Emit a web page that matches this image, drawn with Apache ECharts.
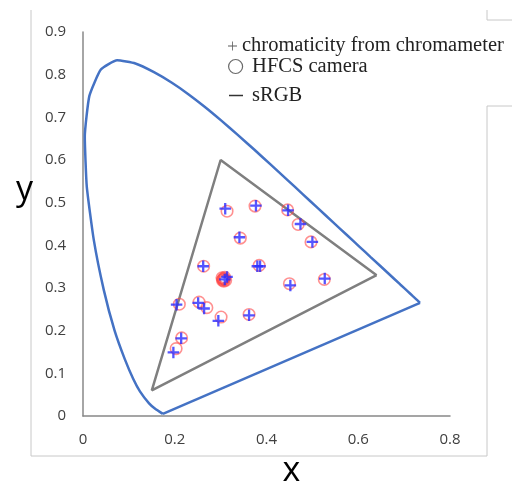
<!DOCTYPE html>
<html>
<head>
<meta charset="utf-8">
<script src="https://cdn.jsdelivr.net/npm/echarts@6/dist/echarts.min.js"></script>
<style>
  html, body { margin: 0; padding: 0; background: #fff; }
  #chart { width: 512px; height: 482px; }
</style>
</head>
<body>
<div id="chart"></div>
<script>
// spectral locus (x, y), 380 nm -> 700 nm
var locus = [
  [0.1741, 0.0050], [0.1566, 0.0177], [0.1440, 0.0297], [0.1241, 0.0578],
  [0.1096, 0.0868], [0.0913, 0.1327], [0.0687, 0.2007], [0.0454, 0.2950],
  [0.0235, 0.4127], [0.0082, 0.5384], [0.0039, 0.6548], [0.0139, 0.7502],
  [0.0389, 0.8120], [0.0743, 0.8338], [0.1142, 0.8262], [0.1547, 0.8059],
  [0.1929, 0.7816], [0.2296, 0.7543], [0.2658, 0.7243], [0.3016, 0.6923],
  [0.3373, 0.6589], [0.3731, 0.6245], [0.4087, 0.5896], [0.4441, 0.5547],
  [0.4788, 0.5202], [0.5125, 0.4866], [0.5448, 0.4544], [0.5752, 0.4242],
  [0.6029, 0.3965], [0.6270, 0.3725], [0.6658, 0.3340], [0.6915, 0.3083],
  [0.7079, 0.2920], [0.7190, 0.2809], [0.7260, 0.2740], [0.7347, 0.2653]
];
// purple line closing the horseshoe
var purpleLine = [[0.7347, 0.2653], [0.1741, 0.0050]];

// sRGB gamut triangle
var srgb = [[0.64, 0.33], [0.30, 0.60], [0.15, 0.06], [0.64, 0.33]];

// chromameter readings (blue +)
var meterPts = [
  [0.310, 0.486], [0.377, 0.493], [0.447, 0.482], [0.474, 0.450], [0.500, 0.408],
  [0.341, 0.419], [0.262, 0.351], [0.380, 0.351], [0.386, 0.351], [0.314, 0.326],
  [0.309, 0.320], [0.452, 0.306], [0.527, 0.322], [0.204, 0.261], [0.251, 0.265],
  [0.264, 0.252], [0.295, 0.223], [0.362, 0.236], [0.214, 0.182], [0.197, 0.149]
];

// HFCS camera estimates (red o)
var cameraPts = [
  [0.314, 0.480], [0.375, 0.492], [0.446, 0.483], [0.469, 0.449], [0.497, 0.408],
  [0.343, 0.417], [0.263, 0.351], [0.384, 0.353], [0.305, 0.320], [0.309, 0.325],
  [0.303, 0.324], [0.311, 0.318], [0.307, 0.316], [0.306, 0.322], [0.308, 0.321],
  [0.304, 0.318], [0.450, 0.310], [0.526, 0.320],
  [0.210, 0.262], [0.253, 0.267], [0.270, 0.254], [0.301, 0.232], [0.362, 0.238],
  [0.215, 0.183], [0.203, 0.158]
];

var xTicks = [0, 0.8, 0.2];   // min, max, step
var yTicks = [0, 0.9, 0.1];

var plus = 'path://M4,0h2v4h4v2h-4v4h-2v-4h-4v-2h4z';
var thinPlus = 'path://M4.55,0h0.9v4.55h4.55v0.9h-4.55v4.55h-0.9v-4.55h-4.55v-0.9h4.55z';

var chart = echarts.init(document.getElementById('chart'));

var legendText = { fontFamily: 'Liberation Serif', fontSize: 20.5, color: '#222' };
var locusStyle = { color: '#4472C4', width: 2.5 };

var option = {
  animation: false,
  backgroundColor: '#fff',
  grid: { left: 83, right: 62, top: 32, bottom: 66, outerBoundsMode: 'none' },
  legend: [
    {
      left: 228, top: 35.5, padding: 0, selectedMode: false,
      itemWidth: 9, itemHeight: 9,
      textStyle: legendText,
      data: [{ name: 'chromaticity from chromameter', icon: thinPlus, itemStyle: { color: '#333', borderWidth: 0 } }]
    },
    {
      left: 228, top: 56, padding: 0, selectedMode: false,
      itemWidth: 15, itemHeight: 14,
      textStyle: Object.assign({ padding: [0, 0, 0, 4] }, legendText),
      data: [{ name: 'HFCS camera', icon: 'circle', itemStyle: { color: '#fff', borderColor: '#444', borderWidth: 1.2 } }]
    },
    {
      left: 229, top: 85, padding: 0, selectedMode: false,
      itemWidth: 14, itemHeight: 1.5,
      textStyle: Object.assign({ padding: [0, 0, 0, 4] }, legendText),
      data: [{ name: 'sRGB', icon: 'rect', itemStyle: { color: '#333', borderWidth: 0 } }]
    }
  ],
  xAxis: {
    type: 'value', min: xTicks[0], max: xTicks[1], interval: xTicks[2],
    name: 'x', nameLocation: 'middle', nameGap: 38,
    nameTextStyle: { fontFamily: 'Open Sans', fontSize: 34, color: '#000', padding: [0, 0, 0, 50] },
    axisLine: { lineStyle: { color: '#888', width: 1.5 } },
    axisTick: { show: false },
    splitLine: { show: false },
    axisLabel: { margin: 16, fontFamily: 'Open Sans', fontSize: 15, color: '#404040' }
  },
  yAxis: {
    type: 'value', min: yTicks[0], max: yTicks[1], interval: yTicks[2],
    name: 'y', nameLocation: 'middle', nameGap: 50, nameRotate: 0,
    nameTextStyle: { fontFamily: 'Open Sans', fontSize: 34, color: '#000', verticalAlign: 'bottom', padding: [0, 0, 17, 0] },
    axisLine: { show: true, lineStyle: { color: '#888', width: 1.5 } },
    axisTick: { show: false },
    splitLine: { show: false },
    axisLabel: { margin: 17, fontFamily: 'Open Sans', fontSize: 15, color: '#404040' }
  },
  series: [
    {
      name: 'locus', type: 'line', data: locus, showSymbol: false, smooth: 0.15,
      lineStyle: locusStyle, z: 2
    },
    {
      name: 'purple line', type: 'line', data: purpleLine, showSymbol: false,
      lineStyle: locusStyle, z: 2
    },
    {
      name: 'sRGB', type: 'line', data: srgb, showSymbol: false,
      itemStyle: { color: '#7f7f7f' },
      lineStyle: { color: '#7f7f7f', width: 2.5 }, z: 2
    },
    {
      name: 'HFCS camera', type: 'scatter', data: cameraPts,
      symbol: 'circle', symbolSize: 11.5,
      itemStyle: { color: 'rgba(0,0,0,0)', borderColor: 'rgba(255,70,70,0.75)', borderWidth: 1.6 }, z: 3
    },
    {
      name: 'chromaticity from chromameter', type: 'scatter', data: meterPts,
      symbol: plus, symbolSize: 11.5,
      itemStyle: { color: '#2a2aff' }, z: 4
    }
  ],
  graphic: [
    { type: 'line', shape: { x1: 31, y1: 10, x2: 31, y2: 456 }, style: { stroke: '#c8c8c8', lineWidth: 1 } },
    { type: 'line', shape: { x1: 31, y1: 456, x2: 487, y2: 456 }, style: { stroke: '#c8c8c8', lineWidth: 1 } },
    { type: 'line', shape: { x1: 487, y1: 106, x2: 487, y2: 456 }, style: { stroke: '#c8c8c8', lineWidth: 1 } },
    { type: 'line', shape: { x1: 487, y1: 106, x2: 512, y2: 106 }, style: { stroke: '#c8c8c8', lineWidth: 1 } },
    { type: 'line', shape: { x1: 487, y1: 10, x2: 487, y2: 20 }, style: { stroke: '#c8c8c8', lineWidth: 1 } },
    { type: 'line', shape: { x1: 487, y1: 20, x2: 512, y2: 20 }, style: { stroke: '#c8c8c8', lineWidth: 1 } }
  ]
};

chart.setOption(option);
</script>
</body>
</html>
